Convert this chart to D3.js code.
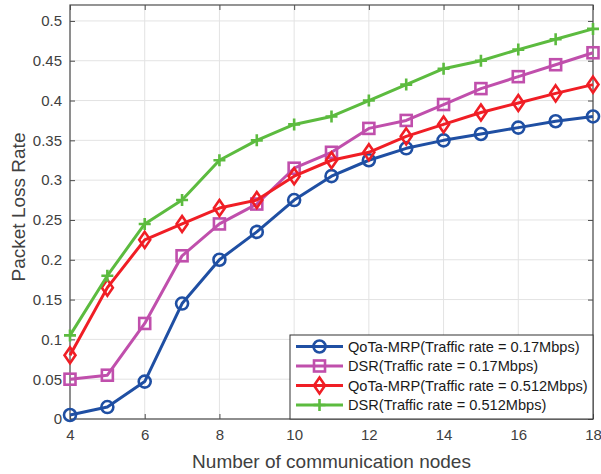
<!DOCTYPE html>
<html>
<head>
<meta charset="utf-8">
<script src="https://cdn.jsdelivr.net/npm/d3@7"></script>
<style>
  body { margin: 0; background: #fff; }
  text { font-family: "Liberation Sans", Arial, sans-serif; }
</style>
</head>
<body>
<svg id="chart" width="601" height="474"></svg>
<script>
// number of communication nodes
const nodes = [4, 5, 6, 7, 8, 9, 10, 11, 12, 13, 14, 15, 16, 17, 18];

// packet loss rate per series
const qotaLow  = [0.005, 0.015, 0.047, 0.145, 0.2, 0.235, 0.275, 0.305, 0.325, 0.34, 0.35, 0.358, 0.366, 0.374, 0.38];
const dsrLow   = [0.05, 0.055, 0.12, 0.205, 0.245, 0.27, 0.315, 0.335, 0.365, 0.375, 0.395, 0.415, 0.43, 0.445, 0.46];
const qotaHigh = [0.08, 0.165, 0.225, 0.245, 0.265, 0.275, 0.305, 0.325, 0.335, 0.355, 0.37, 0.385, 0.397, 0.409, 0.42];
const dsrHigh  = [0.105, 0.18, 0.245, 0.275, 0.325, 0.35, 0.37, 0.38, 0.4, 0.42, 0.44, 0.45, 0.464, 0.477, 0.49];

const seriesNames = [
  "QoTa-MRP(Traffic rate = 0.17Mbps)",
  "DSR(Traffic rate = 0.17Mbps)",
  "QoTa-MRP(Traffic rate = 0.512Mbps)",
  "DSR(Traffic rate = 0.512Mbps)"
];

const xTicks = [4, 6, 8, 10, 12, 14, 16, 18];
const yTicks = [0, 0.05, 0.1, 0.15, 0.2, 0.25, 0.3, 0.35, 0.4, 0.45, 0.5];

const series = [
  { name: seriesNames[0], values: qotaLow,  color: "#1f4fa3", marker: "circle" },
  { name: seriesNames[1], values: dsrLow,   color: "#c04fac", marker: "square" },
  { name: seriesNames[2], values: qotaHigh, color: "#f01e25", marker: "diamond" },
  { name: seriesNames[3], values: dsrHigh,  color: "#5cbb3f", marker: "plus" }
];

const svg = d3.select('#chart');
const pL = 70, pR = 593, pT = 5, pB = 419;

const x = d3.scaleLinear().domain([4, 18]).range([pL, pR]);
const y = d3.scaleLinear().domain([0, 0.52]).range([pB, pT]);

// grid
const grid = svg.append('g').attr('id', 'grid');
grid.selectAll('line.gx').data(xTicks).enter().append('line')
  .attr('x1', d => x(d)).attr('x2', d => x(d))
  .attr('y1', pT).attr('y2', pB)
  .attr('stroke', '#e3e3e3').attr('stroke-width', 1);
grid.selectAll('line.gy').data(yTicks).enter().append('line')
  .attr('x1', pL).attr('x2', pR)
  .attr('y1', d => y(d)).attr('y2', d => y(d))
  .attr('stroke', '#e3e3e3').attr('stroke-width', 1);

// axes (ticks pointing inward, box on)
const axisColor = '#4d4d4d';
function styleAxis(g) {
  g.select('.domain').remove();
  g.selectAll('line').attr('stroke', axisColor);
  g.selectAll('text').attr('fill', '#404040').attr('font-size', '15px')
    .attr('font-family', '"Liberation Sans", Arial, sans-serif');
}

svg.append('g').attr('transform', `translate(0,${pB})`)
  .call(d3.axisBottom(x).tickValues(xTicks).tickSizeInner(-5).tickSizeOuter(0).tickPadding(10))
  .call(styleAxis);
svg.append('g').attr('transform', `translate(0,${pT})`)
  .call(d3.axisTop(x).tickValues(xTicks).tickSizeInner(-5).tickSizeOuter(0).tickFormat(''))
  .call(styleAxis);
svg.append('g').attr('transform', `translate(${pL},0)`)
  .call(d3.axisLeft(y).tickValues(yTicks).tickSizeInner(-5).tickSizeOuter(0).tickPadding(8).tickFormat(d => String(+d.toFixed(2))))
  .call(styleAxis);
svg.append('g').attr('transform', `translate(${pR},0)`)
  .call(d3.axisRight(y).tickValues(yTicks).tickSizeInner(-5).tickSizeOuter(0).tickFormat(''))
  .call(styleAxis);

svg.append('rect')
  .attr('x', pL).attr('y', pT)
  .attr('width', pR - pL).attr('height', pB - pT)
  .attr('fill', 'none').attr('stroke', axisColor).attr('stroke-width', 1.2);

// axis labels
svg.append('text')
  .attr('x', (pL + pR) / 2).attr('y', 468)
  .attr('text-anchor', 'middle')
  .attr('font-size', '19px').attr('fill', '#404040')
  .text('Number of communication nodes');
svg.append('text')
  .attr('transform', `translate(25,${(pT + pB) / 2 - 5}) rotate(-90)`)
  .attr('text-anchor', 'middle')
  .attr('font-size', '19px').attr('fill', '#404040')
  .text('Packet Loss Rate');

// markers
function drawMarker(g, type, cx, cy, color) {
  if (type === 'circle') {
    g.append('circle').attr('cx', cx).attr('cy', cy).attr('r', 6)
      .attr('fill', 'none').attr('stroke', color).attr('stroke-width', 2.6);
  } else if (type === 'square') {
    g.append('rect').attr('x', cx - 5.5).attr('y', cy - 5.5).attr('width', 11).attr('height', 11)
      .attr('fill', 'none').attr('stroke', color).attr('stroke-width', 2.6);
  } else if (type === 'diamond') {
    g.append('path')
      .attr('d', `M${cx},${cy - 8}L${cx + 5.5},${cy}L${cx},${cy + 8}L${cx - 5.5},${cy}Z`)
      .attr('fill', 'none').attr('stroke', color).attr('stroke-width', 2.6);
  } else {
    g.append('path')
      .attr('d', `M${cx - 6},${cy}H${cx + 6}M${cx},${cy - 6}V${cy + 6}`)
      .attr('fill', 'none').attr('stroke', color).attr('stroke-width', 2.6);
  }
}

const line = d3.line().x((d, i) => x(nodes[i])).y(d => y(d));
const plot = svg.append('g').attr('id', 'series');

series.forEach(s => {
  const g = plot.append('g');
  g.append('path')
    .attr('d', line(s.values))
    .attr('fill', 'none')
    .attr('stroke', s.color)
    .attr('stroke-width', 3)
    .attr('stroke-linejoin', 'round');
  s.values.forEach((v, i) => drawMarker(g, s.marker, x(nodes[i]), y(v), s.color));
});

// legend
const legend = svg.append('g').attr('id', 'legend');
legend.append('rect')
  .attr('x', 290).attr('y', 335).attr('width', pR - 290).attr('height', pB - 335)
  .attr('fill', '#fff').attr('stroke', '#333').attr('stroke-width', 1);

series.forEach((s, i) => {
  const ly = 346.5 + i * 19.5;
  legend.append('line')
    .attr('x1', 296).attr('x2', 343).attr('y1', ly).attr('y2', ly)
    .attr('stroke', s.color).attr('stroke-width', 3);
  drawMarker(legend, s.marker, 319.5, ly, s.color);
  legend.append('text')
    .attr('x', 348).attr('y', ly + 5)
    .attr('font-size', '14.6px').attr('fill', '#1a1a1a')
    .text(s.name);
});
</script>
</body>
</html>
